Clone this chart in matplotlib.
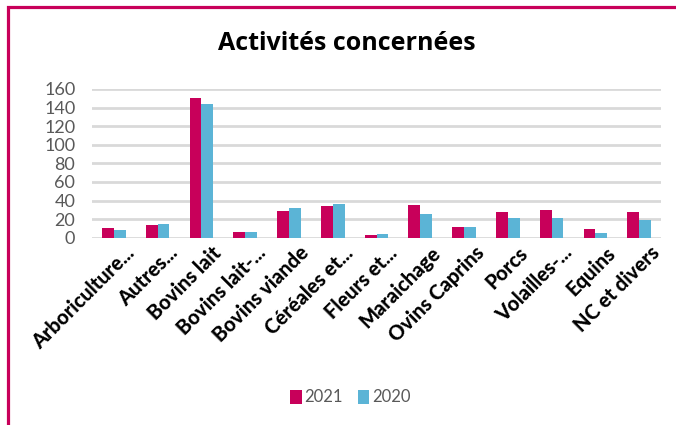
import matplotlib.pyplot as plt
import matplotlib.transforms as mtransforms
import numpy as np
from matplotlib.patches import Rectangle

# data
categories = ["Arboriculture...", "Autres...", "Bovins lait", "Bovins lait-...",
              "Bovins viande", "Céréales et...", "Fleurs et...", "Maraichage",
              "Ovins Caprins", "Porcs", "Volailles-...", "Equins", "NC et divers"]
vals_2021 = [10, 14, 150, 6, 29, 34, 3, 35, 12, 28, 30, 9, 28]
vals_2020 = [8, 15, 144, 6, 32, 36, 4, 26, 12, 21, 21, 5, 19]
yticks = [0, 20, 40, 60, 80, 100, 120, 140, 160]

col_2021 = "#C8005A"
col_2020 = "#5BB4D6"
grid_col = "#D9D9D9"

plt.rcParams['font.family'] = ['Lato', 'DejaVu Sans']

fig = plt.figure(figsize=(6.76, 4.25), dpi=100)
ax = fig.add_axes([0.136, 0.4407, 0.842, 0.3499])

x = np.arange(len(categories))
w = 0.27
ax.bar(x - w / 2, vals_2021, w, color=col_2021, label="2021", zorder=3)
ax.bar(x + w / 2, vals_2020, w, color=col_2020, label="2020", zorder=3)

ax.set_xlim(-0.5, len(categories) - 0.5)
ax.set_ylim(0, 160)
ax.set_yticks(yticks)
ax.yaxis.grid(True, color=grid_col, linewidth=2, zorder=0)
for s in ax.spines.values():
    s.set_visible(False)
ax.tick_params(axis='both', length=0)
ax.tick_params(axis='y', labelsize=13, labelcolor="#595959", pad=12)

ax.set_xticks(x)
ax.set_xticklabels(categories, rotation=45, ha='right', va='center',
                   rotation_mode='anchor', fontsize=14.5, fontweight='black',
                   color='black')
shift = mtransforms.ScaledTranslation(0.17, -0.07, fig.dpi_scale_trans)
for lbl in ax.get_xticklabels():
    lbl.set_transform(lbl.get_transform() + shift)

fig.text(0.5126, 1 - 50 / 425, "Activités concernées", ha='center', va='baseline',
         fontsize=18, fontweight='bold', color='black', family='Open Sans')

leg = fig.legend(loc='center', bbox_to_anchor=(0.518, 0.065), ncol=2, frameon=False,
                 fontsize=12, handlelength=0.7, handleheight=0.9, handletextpad=0.15,
                 columnspacing=0.9)
for t in leg.get_texts():
    t.set_color("#595959")

# magenta frame round the chart
fig.patches.append(Rectangle((7.5 / 676, -0.1), 1.2, 1.1 - 7.5 / 425,
                             transform=fig.transFigure, fill=False,
                             edgecolor=col_2021, linewidth=2.3))

fig.savefig("out.png", dpi=100)
